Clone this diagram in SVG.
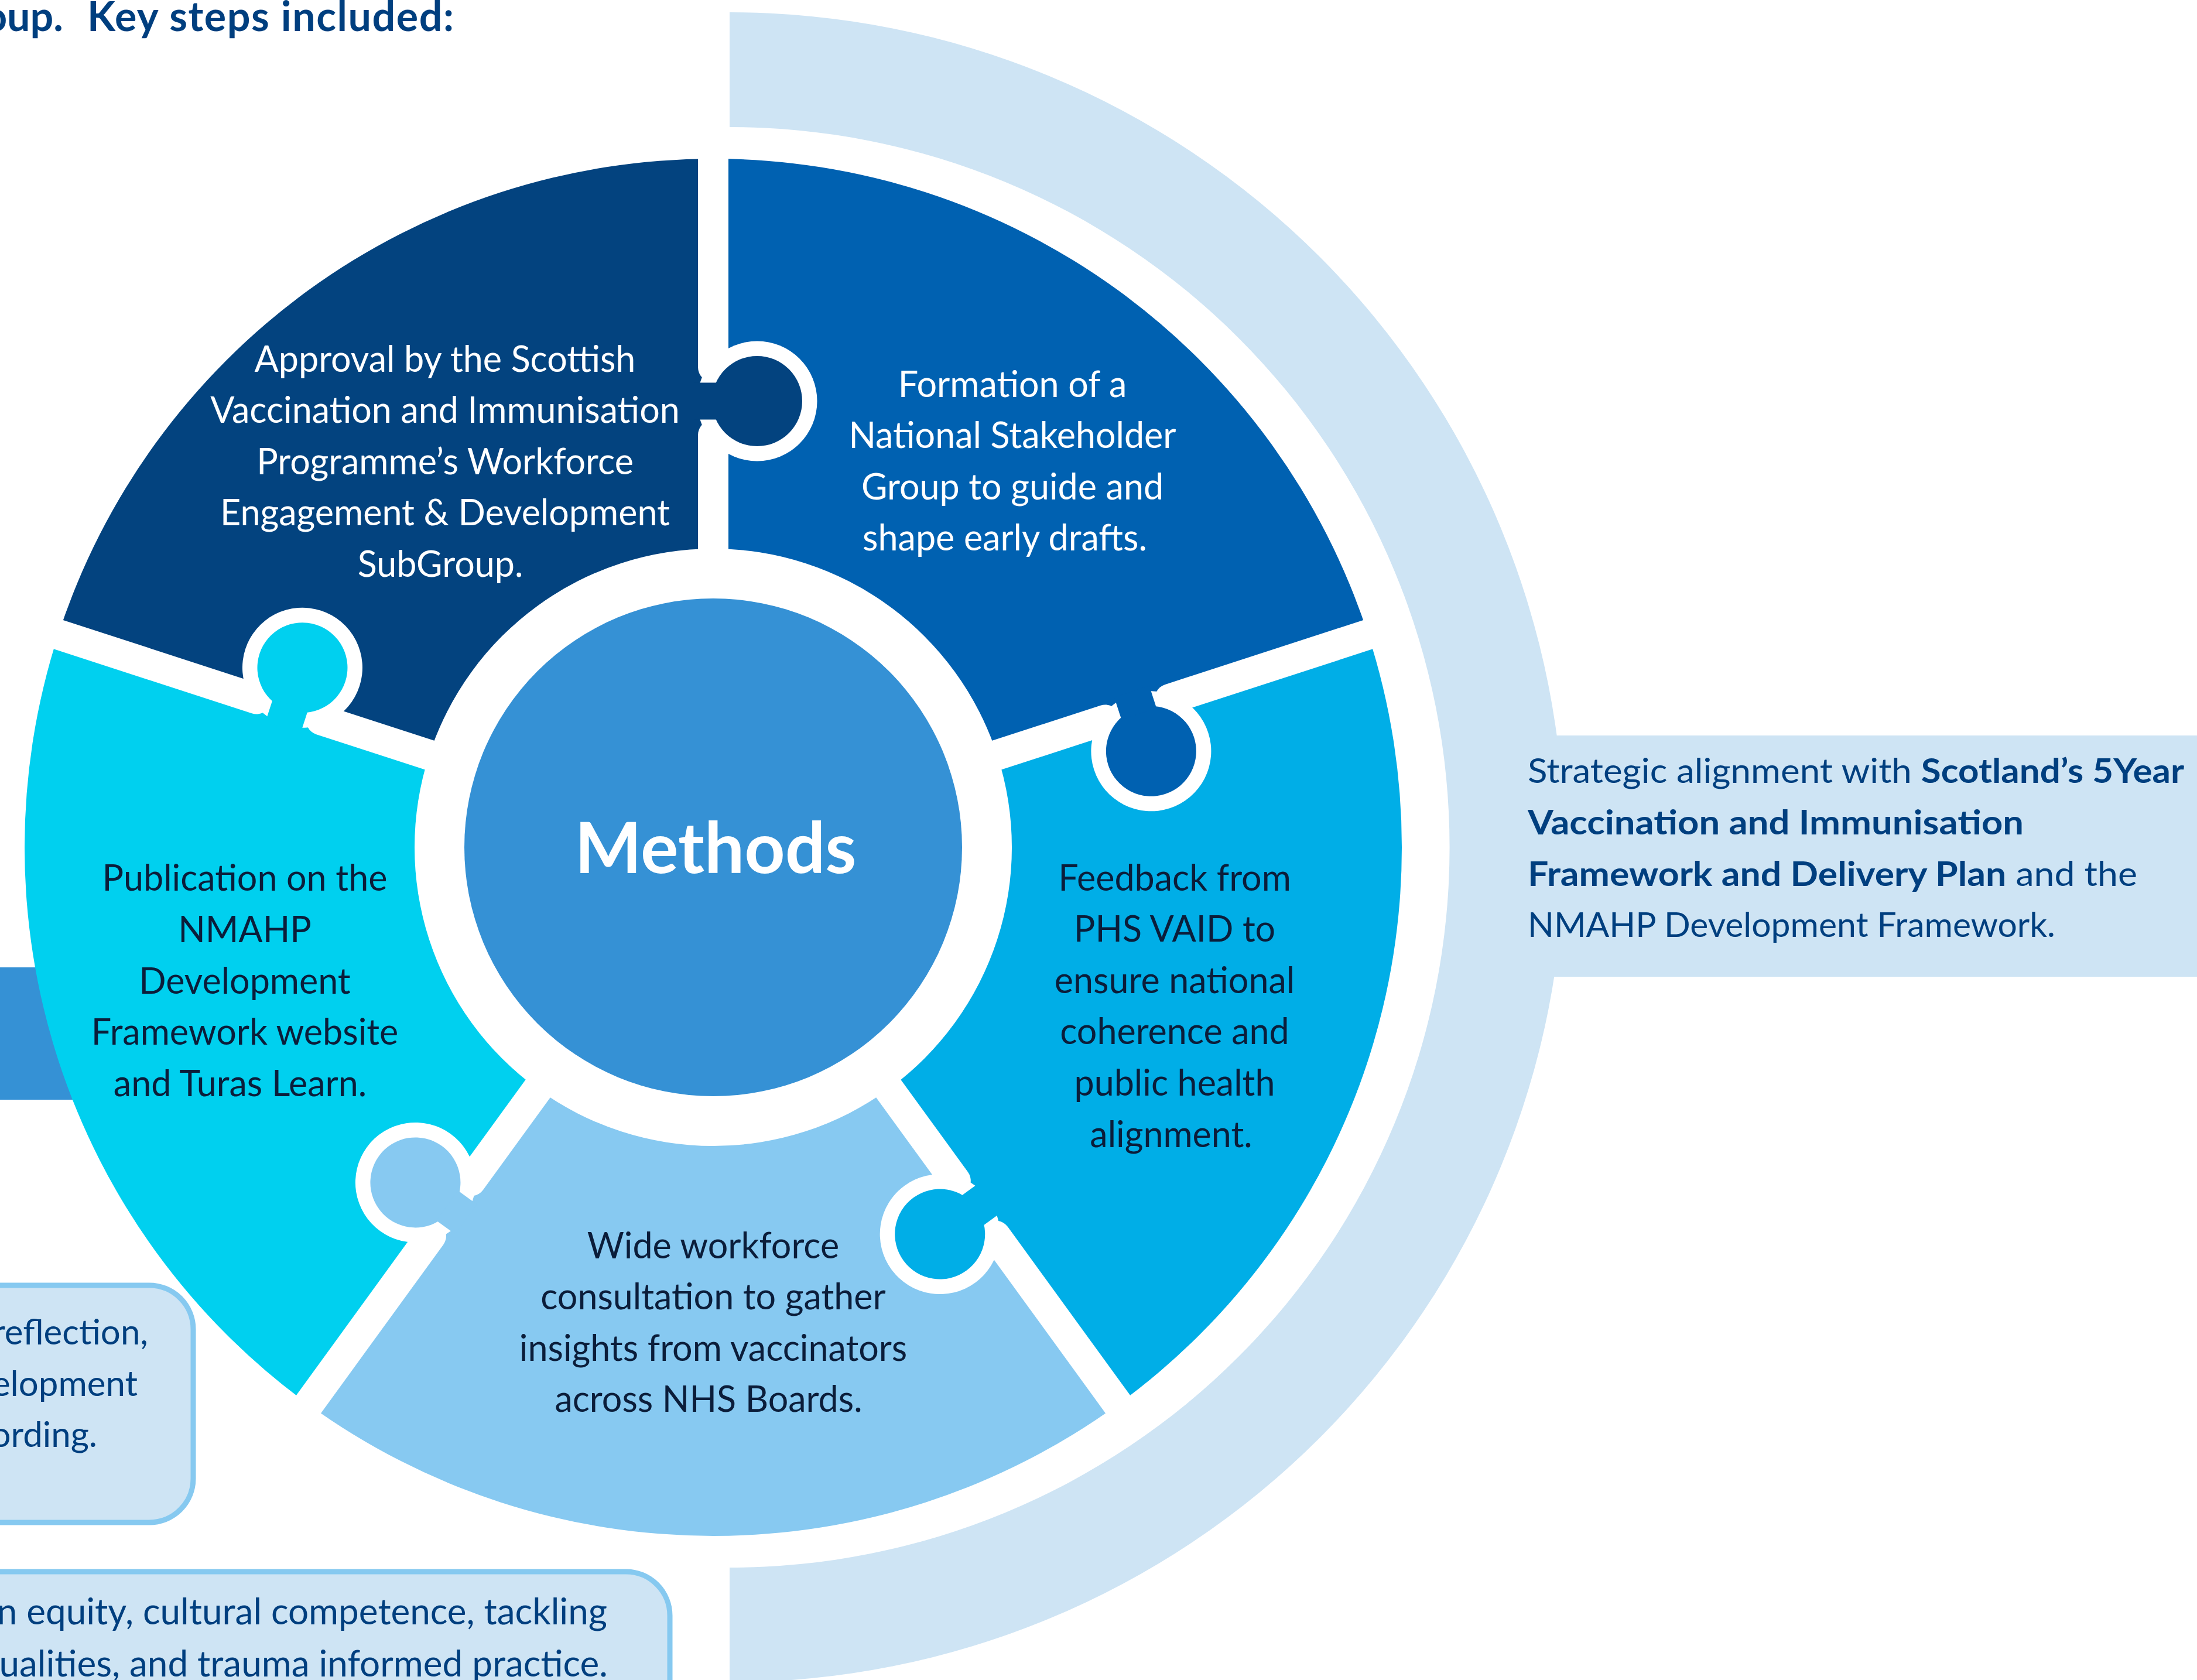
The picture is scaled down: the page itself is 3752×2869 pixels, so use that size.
<svg xmlns="http://www.w3.org/2000/svg" width="3752" height="2869" viewBox="0 0 3752 2869">
<style>
text{font-family:Lato,"Open Sans","Liberation Sans",sans-serif}
.pt{font-size:61px;text-anchor:middle}
.wt{fill:#ffffff}
.dt{fill:#0b1d3a}
.nv{fill:#003f7f}
.bx{font-size:62px;text-anchor:end}
.bx1{font-size:60px;text-anchor:end}
.st{font-size:58px}
.gap{stroke:#ffffff;stroke-width:52;stroke-linecap:round;fill:none}
.box{fill:#cee4f4;stroke:#86c9f0;stroke-width:9}
</style>
<defs>
<path id="sector" d="M0,-1176 A1176,1176 0 0 1 1118.44,-363.40 L485.04,-157.60 A510,510 0 0 0 0,-510 Z"/>
<g id="cut"><line x1="0" y1="-490" x2="0" y2="-704"/><line x1="0" y1="-820" x2="0" y2="-1205"/></g>
<circle id="socket" cx="75" cy="-762" r="102.5" fill="#ffffff"/>
<g id="knob"><circle cx="75" cy="-762" r="77"/><rect x="-32" y="-793.5" width="40" height="63"/></g>
</defs>
<rect width="3752" height="2869" fill="#ffffff"/>

<g id="title">
<text x="108" y="53" font-size="70" font-weight="700" fill="#003f7f" text-anchor="end">oup.</text>
<text x="149" y="53" font-size="70" font-weight="700" fill="#003f7f" textLength="626">Key steps included:</text>
</g>

<g id="outer-band">
<path d="M1246,21 A1426,1426 0 0 1 1246,2873 L1246,2677 A1230,1230 0 0 0 1246,217 Z" fill="#cee4f4"/>
<rect x="2500" y="1256" width="1252" height="412" fill="#cee4f4"/>
<text x="2609" y="1337" class="st nv" textLength="1121" lengthAdjust="spacingAndGlyphs">Strategic alignment with <tspan font-weight="700">Scotland’s 5Year</tspan></text>
<text x="2609" y="1425" class="st nv" font-weight="700" textLength="847" lengthAdjust="spacingAndGlyphs">Vaccination and Immunisation</text>
<text x="2609" y="1513" class="st nv" textLength="1041" lengthAdjust="spacingAndGlyphs"><tspan font-weight="700">Framework and Delivery Plan</tspan> and the</text>
<text x="2609" y="1600" class="st nv" textLength="901" lengthAdjust="spacingAndGlyphs">NMAHP Development Framework.</text>
</g>

<g id="left-bar"><rect x="0" y="1652" width="250" height="226" fill="#3591d5"/></g>

<g id="box-1">
<rect class="box" x="-100" y="2195" width="430" height="405" rx="75"/>
<text x="253" y="2296" class="bx1 nv">reflection,</text>
<text x="235" y="2384" class="bx1 nv">elopment</text>
<text x="166" y="2471" class="bx1 nv">ording.</text>
</g>

<g id="box-2">
<rect class="box" x="-100" y="2684" width="1244" height="400" rx="75"/>
<text x="1037" y="2774" class="bx nv">n equity, cultural competence, tackling</text>
<text x="1038" y="2863" class="bx nv">ualities, and trauma informed practice.</text>
</g>

<g id="puzzle">
<g id="sectors">
<use href="#sector" transform="translate(1218,1447) rotate(0)" fill="#0061b1"/>
<use href="#sector" transform="translate(1218,1447) rotate(72)" fill="#00aee7"/>
<use href="#sector" transform="translate(1218,1447) rotate(144)" fill="#87c9f1"/>
<use href="#sector" transform="translate(1218,1447) rotate(216)" fill="#00d0ef"/>
<use href="#sector" transform="translate(1218,1447) rotate(288)" fill="#03437f"/>
</g>
<g id="sockets">
<use href="#socket" transform="translate(1218,1447) rotate(0)"/>
<use href="#socket" transform="translate(1218,1447) rotate(72)"/>
<use href="#socket" transform="translate(1218,1447) rotate(144)"/>
<use href="#socket" transform="translate(1218,1447) rotate(216)"/>
<use href="#socket" transform="translate(1218,1447) rotate(288)"/>
</g>
<g id="cuts" class="gap">
<use href="#cut" transform="translate(1218,1447) rotate(0)"/>
<use href="#cut" transform="translate(1218,1447) rotate(72)"/>
<use href="#cut" transform="translate(1218,1447) rotate(144)"/>
<use href="#cut" transform="translate(1218,1447) rotate(216)"/>
<use href="#cut" transform="translate(1218,1447) rotate(288)"/>
</g>
<g id="knobs">
<use href="#knob" transform="translate(1218,1447) rotate(0)" fill="#03437f"/>
<use href="#knob" transform="translate(1218,1447) rotate(72)" fill="#0061b1"/>
<use href="#knob" transform="translate(1218,1447) rotate(144)" fill="#00aee7"/>
<use href="#knob" transform="translate(1218,1447) rotate(216)" fill="#87c9f1"/>
<use href="#knob" transform="translate(1218,1447) rotate(288)" fill="#00d0ef"/>
</g>
</g>

<g id="node-approval">
<text class="pt wt" x="760" y="635">Approval by the Scottish</text>
<text class="pt wt" x="760" y="722">Vaccination and Immunisation</text>
<text class="pt wt" x="760" y="810">Programme’s Workforce</text>
<text class="pt wt" x="760" y="897">Engagement &amp; Development</text>
<text class="pt wt" x="752" y="985">SubGroup.</text>
</g>
<g id="node-formation">
<text class="pt wt" x="1729" y="678">Formation of a</text>
<text class="pt wt" x="1729" y="765">National Stakeholder</text>
<text class="pt wt" x="1729" y="853">Group to guide and</text>
<text class="pt wt" x="1716" y="940">shape early drafts.</text>
</g>
<g id="node-feedback">
<text class="pt dt" x="2006" y="1521">Feedback from</text>
<text class="pt dt" x="2006" y="1608">PHS VAID to</text>
<text class="pt dt" x="2006" y="1696">ensure national</text>
<text class="pt dt" x="2006" y="1783">coherence and</text>
<text class="pt dt" x="2006" y="1871">public health</text>
<text class="pt dt" x="2000" y="1959">alignment.</text>
</g>
<g id="node-consultation">
<text class="pt dt" x="1218" y="2149">Wide workforce</text>
<text class="pt dt" x="1218" y="2236">consultation to gather</text>
<text class="pt dt" x="1218" y="2324">insights from vaccinators</text>
<text class="pt dt" x="1210" y="2411">across NHS Boards.</text>
</g>
<g id="node-publication">
<text class="pt dt" x="418" y="1521">Publication on the</text>
<text class="pt dt" x="418" y="1609">NMAHP</text>
<text class="pt dt" x="418" y="1697">Development</text>
<text class="pt dt" x="418" y="1784">Framework website</text>
<text class="pt dt" x="410" y="1872">and Turas Learn.</text>
</g>
<g id="node-methods">
<circle cx="1218" cy="1447" r="425" fill="#3591d5"/>
<text x="1222" y="1491" font-size="121" font-weight="700" fill="#ffffff" text-anchor="middle">Methods</text>
</g>
</svg>
